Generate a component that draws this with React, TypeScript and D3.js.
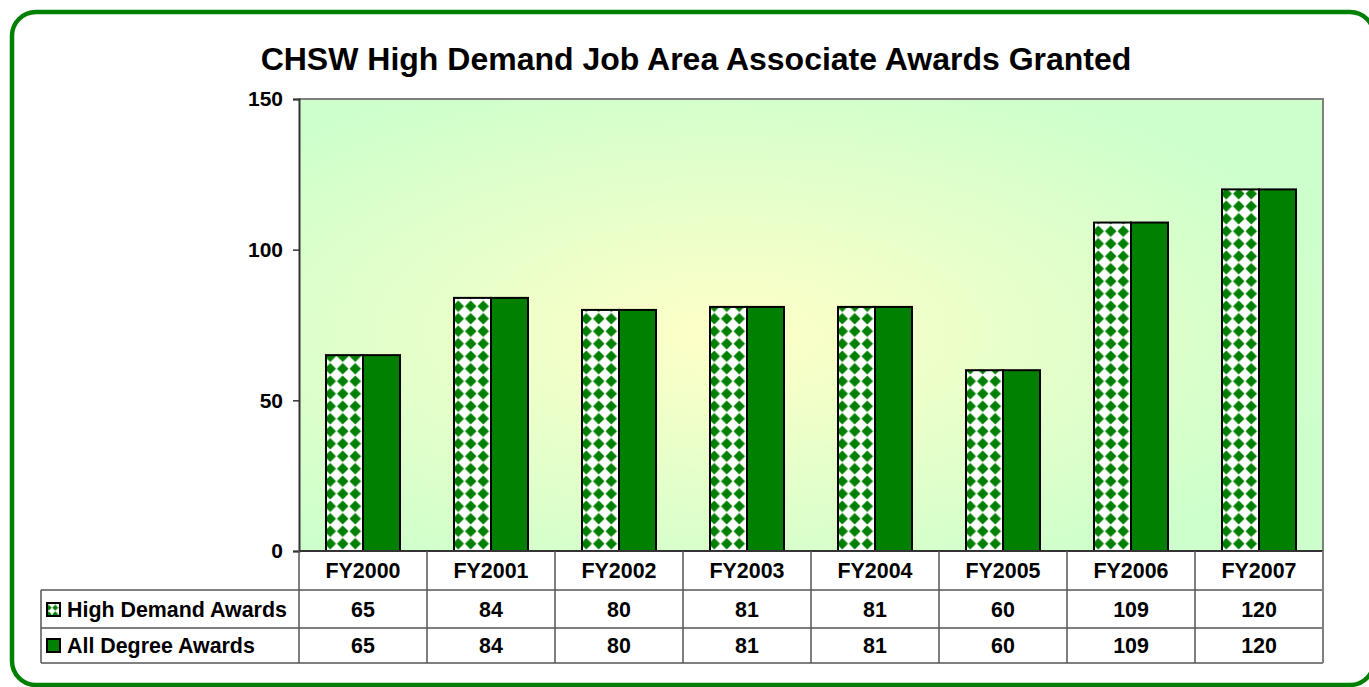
import { useEffect, useRef } from 'react';
import * as d3 from 'd3';

const years = ['FY2000', 'FY2001', 'FY2002', 'FY2003', 'FY2004', 'FY2005', 'FY2006', 'FY2007'];
const highDemand = [65, 84, 80, 81, 81, 60, 109, 120];
const allDegree = [65, 84, 80, 81, 81, 60, 109, 120];
const seriesNames = ['High Demand Awards', 'All Degree Awards'];
const yTicks = [0, 50, 100, 150];

const GREEN = '#008000';
const FONT = 'Arial, "Liberation Sans", sans-serif';

export default function App() {
  const svgRef = useRef<SVGSVGElement>(null);
  const width = 1369;
  const height = 687;

  useEffect(() => {
    if (!svgRef.current) return;
    const svg = d3.select(svgRef.current);
    svg.selectAll('*').remove();

    const plot = { left: 299, right: 1323, top: 99, bottom: 551 };
    const rows = [551, 590, 628, 663];
    const tableLeft = 41;

    const defs = svg.append('defs');

    // background gradient of plot area
    const grad = defs.append('radialGradient')
      .attr('id', 'plot-bg')
      .attr('cx', '42%').attr('cy', '52%').attr('r', '62%');
    grad.append('stop').attr('offset', '0%').attr('stop-color', '#ffffc8');
    grad.append('stop').attr('offset', '100%').attr('stop-color', '#ccffcc');

    // diamond checkerboard pattern (green diamonds on white, touching at tips)
    const makePattern = (id: string, s: number) => {
      const p = defs.append('pattern')
        .attr('id', id)
        .attr('patternUnits', 'userSpaceOnUse')
        .attr('width', s).attr('height', s);
      p.append('rect').attr('width', s).attr('height', s).attr('fill', '#fff');
      const h = s * 0.46;
      const c = s / 2;
      p.append('path')
        .attr('d', `M${c},${c - h}L${c + h},${c}L${c},${c + h}L${c - h},${c}Z`)
        .attr('fill', GREEN);
    };
    makePattern('diamonds', 12.5);
    makePattern('diamonds-small', 6.5);

    // outer frame
    svg.append('rect')
      .attr('x', 12).attr('y', 12)
      .attr('width', 1362).attr('height', 673)
      .attr('rx', 24).attr('ry', 24)
      .attr('fill', '#fff')
      .attr('stroke', GREEN)
      .attr('stroke-width', 4.5);

    // title
    svg.append('text')
      .attr('x', 696).attr('y', 70)
      .attr('text-anchor', 'middle')
      .style('font-family', FONT)
      .style('font-weight', 'bold')
      .style('font-size', '32px')
      .text('CHSW High Demand Job Area Associate Awards Granted');

    const x = d3.scaleBand<string>()
      .domain(years)
      .range([plot.left, plot.right])
      .padding(0);

    const inner = d3.scaleBand<string>()
      .domain(seriesNames)
      .range([27, x.bandwidth() - 27])
      .padding(0);

    const y = d3.scaleLinear()
      .domain([0, 150])
      .range([plot.bottom, plot.top]);

    // plot background
    svg.append('rect')
      .attr('x', plot.left).attr('y', plot.top)
      .attr('width', plot.right - plot.left)
      .attr('height', plot.bottom - plot.top)
      .attr('fill', 'url(#plot-bg)');

    // top and right borders
    svg.append('path')
      .attr('d', `M${plot.left},${plot.top}H${plot.right}V${plot.bottom}`)
      .attr('fill', 'none')
      .attr('stroke', '#808080')
      .attr('stroke-width', 2);

    // bars
    const data = years.map((yr, i) => ({ yr, values: [highDemand[i], allDegree[i]] }));
    const groups = svg.append('g')
      .selectAll('g')
      .data(data)
      .enter()
      .append('g')
      .attr('transform', d => `translate(${x(d.yr)},0)`);

    groups.selectAll('rect')
      .data(d => d.values.map((v, j) => ({ v, name: seriesNames[j], j })))
      .enter()
      .append('rect')
      .attr('x', d => inner(d.name) || 0)
      .attr('y', d => y(d.v))
      .attr('width', inner.bandwidth())
      .attr('height', d => plot.bottom - y(d.v))
      .attr('fill', d => (d.j === 0 ? 'url(#diamonds)' : GREEN))
      .attr('stroke', '#000')
      .attr('stroke-width', 2);

    // y axis
    const yAxis = d3.axisLeft(y).tickValues(yTicks).tickSize(6).tickPadding(10);
    const ya = svg.append('g')
      .attr('transform', `translate(${plot.left},0)`)
      .call(yAxis);
    ya.select('.domain').attr('stroke', '#333').attr('stroke-width', 2);
    ya.selectAll('.tick line').attr('stroke', '#333').attr('stroke-width', 1.5);
    ya.selectAll('.tick text')
      .attr('fill', '#000')
      .style('font-family', FONT)
      .style('font-weight', 'bold')
      .style('font-size', '21px');

    // data table
    const table = svg.append('g');
    const lineColor = '#555';
    table.append('line')
      .attr('x1', plot.left).attr('x2', plot.right)
      .attr('y1', rows[0]).attr('y2', rows[0])
      .attr('stroke', '#333').attr('stroke-width', 2);
    rows.slice(1).forEach(ry => {
      table.append('line')
        .attr('x1', tableLeft).attr('x2', plot.right)
        .attr('y1', ry).attr('y2', ry)
        .attr('stroke', lineColor).attr('stroke-width', 1.5);
    });
    years.forEach(yr => {
      table.append('line')
        .attr('x1', x(yr) || 0).attr('x2', x(yr) || 0)
        .attr('y1', rows[0]).attr('y2', rows[3])
        .attr('stroke', lineColor).attr('stroke-width', 1.5);
    });
    table.append('line')
      .attr('x1', plot.right).attr('x2', plot.right)
      .attr('y1', rows[0]).attr('y2', rows[3])
      .attr('stroke', '#808080').attr('stroke-width', 2);
    table.append('line')
      .attr('x1', tableLeft).attr('x2', tableLeft)
      .attr('y1', rows[1]).attr('y2', rows[3])
      .attr('stroke', lineColor).attr('stroke-width', 1.5);

    const cellText = (tx: number, ty: number, t: string, anchor = 'middle') =>
      table.append('text')
        .attr('x', tx).attr('y', ty)
        .attr('text-anchor', anchor)
        .style('font-family', FONT)
        .style('font-weight', 'bold')
        .style('font-size', '21.4px')
        .text(t);

    const baselines = [578, 617, 653];
    years.forEach((yr, i) => {
      const cx = (x(yr) || 0) + x.bandwidth() / 2;
      cellText(cx, baselines[0], yr);
      cellText(cx, baselines[1], String(highDemand[i]));
      cellText(cx, baselines[2], String(allDegree[i]));
    });

    seriesNames.forEach((name, j) => {
      const by = baselines[j + 1];
      table.append('rect')
        .attr('x', 47).attr('y', by - 14)
        .attr('width', 13).attr('height', 13)
        .attr('fill', j === 0 ? 'url(#diamonds-small)' : GREEN)
        .attr('stroke', '#000')
        .attr('stroke-width', 2);
      cellText(67, by, name, 'start');
    });
  }, []);

  return (
    <div style={{ position: 'absolute', left: 0, top: 0 }}>
      <svg ref={svgRef} width={width} height={height} style={{ display: 'block' }} />
    </div>
  );
}
